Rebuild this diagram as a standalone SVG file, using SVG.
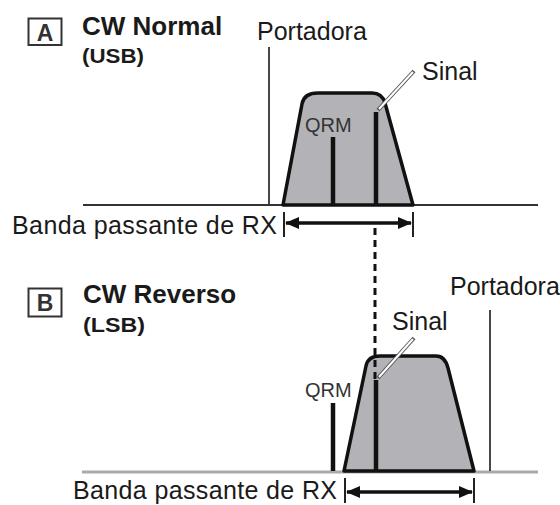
<svg xmlns="http://www.w3.org/2000/svg" width="560" height="505" viewBox="0 0 560 505">
<style>
text{font-family:"Liberation Sans",Arial,sans-serif;fill:#1a1a1a}
.lbl{font-size:25px}
.ttl{font-size:26px;font-weight:bold}
.sub{font-size:20px;font-weight:bold}
.qrm{font-size:20px;fill:#333}
.box{fill:none;stroke:#333;stroke-width:2}
.boxt{font-size:23px;font-weight:bold;text-anchor:middle;fill:#333}
.band{fill:#b3b3b7;stroke:#111;stroke-width:3.5;stroke-linejoin:round}
.sig{stroke:#111;stroke-width:4.5}
.car{stroke:#333;stroke-width:1.8}
.lead1{stroke:#555;stroke-width:4;stroke-linecap:butt}
.lead2{stroke:#fff;stroke-width:2}
.tick{stroke:#222;stroke-width:2}
.arr{stroke:#111;stroke-width:3.5}
</style>
<defs>
<marker id="ah" viewBox="0 0 14 12" refX="13" refY="6" markerWidth="14" markerHeight="12" markerUnits="userSpaceOnUse" orient="auto-start-reverse">
<path d="M0,0 L14,6 L0,12 Z" fill="#111"/>
</marker>
</defs>

<g id="panelA">
<rect class="box" x="28.5" y="18.5" width="33" height="26.5"/>
<text class="boxt" x="45" y="41">A</text>
<text class="ttl" x="82" y="35">CW Normal</text>
<text class="sub" x="82" y="63" textLength="62" lengthAdjust="spacingAndGlyphs">(USB)</text>
<line x1="83" y1="205" x2="538" y2="205" stroke="#333" stroke-width="2.2"/>
</g>

<g id="passbandA">
<path class="band" d="M283,205 L302,104 Q304,93 318,93 L372,93 Q382,93 385,103 L413,205 Z"/>
</g>
<g id="carrierA">
<line class="car" x1="269" y1="47" x2="269" y2="205"/>
<text class="lbl" x="257" y="40">Portadora</text>
</g>
<g id="qrmA">
<line class="sig" x1="333" y1="137" x2="333" y2="205"/>
<text class="qrm" x="305" y="132">QRM</text>
</g>
<g id="signalA">
<line class="sig" x1="376" y1="112" x2="376" y2="205"/>
<line class="lead1" x1="378" y1="110" x2="414" y2="71"/>
<line class="lead2" x1="379" y1="109" x2="413" y2="72"/>
<text class="lbl" x="422" y="80">Sinal</text>
</g>
<g id="rxbandA">
<text class="lbl" x="12" y="234" textLength="265" lengthAdjust="spacing">Banda passante de RX</text>
<line class="tick" x1="284" y1="212" x2="284" y2="237"/>
<line class="tick" x1="413" y1="212" x2="413" y2="237"/>
</g>

<g id="panelB">
<rect class="box" x="28.5" y="288.5" width="33" height="28"/>
<text class="boxt" x="45" y="311">B</text>
<text class="ttl" x="83" y="303">CW Reverso</text>
<text class="sub" x="83" y="332" textLength="62" lengthAdjust="spacingAndGlyphs">(LSB)</text>
<line x1="82" y1="472" x2="538" y2="472" stroke="#aaa" stroke-width="3"/>
</g>

<g id="passbandB">
<path class="band" d="M344,471 L366,366 Q368,356 380,356 L436,356 Q445,356 448,368 L474,471 Z"/>
</g>
<g id="carrierB">
<line class="car" x1="490" y1="310" x2="490" y2="471"/>
<text class="lbl" x="450" y="295">Portadora</text>
</g>
<g id="qrmB">
<line class="sig" x1="333" y1="403" x2="333" y2="471"/>
<text class="qrm" x="305" y="397">QRM</text>
</g>
<g id="signalB">
<line class="sig" x1="376" y1="380" x2="376" y2="471"/>
<line class="lead1" x1="378" y1="378" x2="414" y2="338"/>
<line class="lead2" x1="379" y1="377" x2="413" y2="339"/>
<text class="lbl" x="392" y="330">Sinal</text>
</g>
<g id="rxbandB">
<text class="lbl" x="73" y="499" textLength="264" lengthAdjust="spacing">Banda passante de RX</text>
<line class="tick" x1="345" y1="478" x2="345" y2="503"/>
<line class="tick" x1="474" y1="478" x2="474" y2="503"/>
</g>

<g id="connectors">
<line class="arr" x1="286" y1="223" x2="411" y2="223" marker-start="url(#ah)" marker-end="url(#ah)"/>
<line class="arr" x1="347" y1="492" x2="472" y2="492" marker-start="url(#ah)" marker-end="url(#ah)"/>
<line x1="375" y1="228" x2="375" y2="382" stroke="#111" stroke-width="3" stroke-dasharray="7,5"/>
</g>
</svg>
